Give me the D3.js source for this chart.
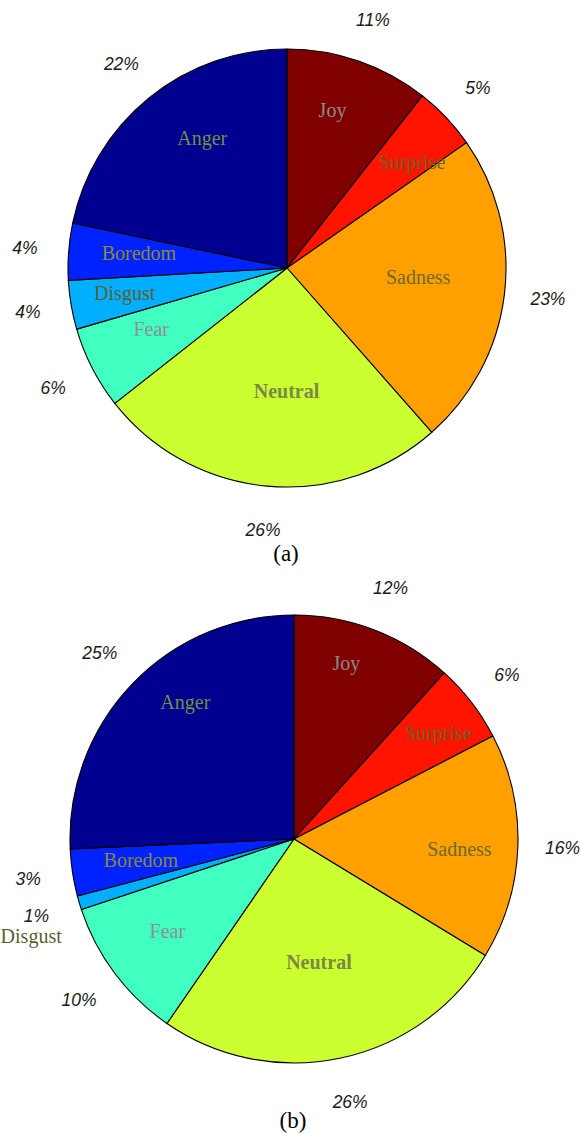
<!DOCTYPE html>
<html>
<head>
<meta charset="utf-8">
<script src="https://cdn.jsdelivr.net/npm/d3@7"></script>
<style>
html,body{margin:0;padding:0;background:#fff;}
svg{display:block;}
</style>
</head>
<body>
<svg id="chart" width="581" height="1133"></svg>
<script>
// ---- data ----
const categories = ["Joy","Surprise","Sadness","Neutral","Fear","Disgust","Boredom","Anger"];
const valuesA = [10.6, 4.7, 23.2, 25.9, 6.1, 3.6, 4.2, 21.7];
const valuesB = [11.7, 5.7, 16.3, 25.9, 10.3, 1.0, 3.4, 25.7];
const pctLabelsA = ["11%","5%","23%","26%","6%","4%","4%","22%"];
const pctLabelsB = ["12%","6%","16%","26%","10%","1%","3%","25%"];
const captions = ["(a)","(b)"];

// ---- styling / layout ----
const sliceColors = ["#800000","#ff1400","#ffa000","#ccff30","#40ffc0","#00b0ff","#0022ff","#000090"];
const nameColors = ["#8c8c8c","#6b6227","#6d6b2b","#7b8845","#8f8f8f","#5c5f33","#878a35","#728f42"];
const nameBold = [false,false,false,true,false,false,false,false];
const layouts = [
  {cx:287, cy:268, r:219, capY:553,
   nameR:[0.75,0.75,0.60,0.56,0.68,0.75,0.68,0.71],
   nameDA:[-3,3,-3,-5,3,1,1.5,6]},
  {cx:294, cy:839, r:224, capY:1120,
   nameR:[0.82,0.80,0.74,0.56,0.70,1.25,0.69,0.78],
   nameDA:[-4.5,1.4,1.6,0.6,0.8,-3.6,1,7.8]}
];
const series = [valuesA, valuesB];
const pctSeries = [pctLabelsA, pctLabelsB];

const svg = d3.select("#chart");
const pie = d3.pie().sort(null).value(d => d.v).startAngle(0).endAngle(2*Math.PI);

series.forEach((vals, k) => {
  const L = layouts[k];
  const data = categories.map((c,i) => ({c, v: vals[i], p: pctSeries[k][i], i}));
  const arcs = pie(data);
  const arc = d3.arc().innerRadius(0).outerRadius(L.r);
  const g = svg.append("g").attr("transform", `translate(${L.cx},${L.cy})`);

  g.selectAll("path.slice").data(arcs).join("path")
    .attr("class","slice")
    .attr("d", arc)
    .attr("fill", d => sliceColors[d.data.i])
    .attr("stroke", "#000")
    .attr("stroke-width", 1.1)
    .attr("stroke-linejoin","round");

  // percentage labels at 1.2 r
  g.selectAll("text.pct").data(arcs).join("text")
    .attr("class","pct")
    .attr("x", d => 1.2*L.r*Math.sin((d.startAngle+d.endAngle)/2))
    .attr("y", d => -1.2*L.r*Math.cos((d.startAngle+d.endAngle)/2))
    .attr("text-anchor","middle")
    .attr("dominant-baseline","central")
    .attr("font-family","'Liberation Sans', Arial, sans-serif")
    .attr("font-style","italic")
    .attr("font-size", 17.5)
    .attr("fill","#1a1a1a")
    .text(d => d.data.p);

  // category names
  g.selectAll("text.name").data(arcs).join("text")
    .attr("class","name")
    .attr("x", d => {
      const a = (d.startAngle+d.endAngle)/2 + L.nameDA[d.data.i]*Math.PI/180;
      return L.nameR[d.data.i]*L.r*Math.sin(a);
    })
    .attr("y", d => {
      const a = (d.startAngle+d.endAngle)/2 + L.nameDA[d.data.i]*Math.PI/180;
      return -L.nameR[d.data.i]*L.r*Math.cos(a);
    })
    .attr("text-anchor","middle")
    .attr("dominant-baseline","central")
    .attr("font-family","'Liberation Serif', 'Times New Roman', serif")
    .attr("font-size", 20)
    .attr("font-weight", d => nameBold[d.data.i] ? "bold" : "normal")
    .attr("fill", d => nameColors[d.data.i])
    .text(d => d.data.c);

  svg.append("text")
    .attr("x", L.cx - 1)
    .attr("y", L.capY)
    .attr("text-anchor","middle")
    .attr("dominant-baseline","central")
    .attr("font-family","'Liberation Serif', 'Times New Roman', serif")
    .attr("font-size", 23)
    .attr("fill","#000")
    .text(captions[k]);
});
</script>
</body>
</html>
